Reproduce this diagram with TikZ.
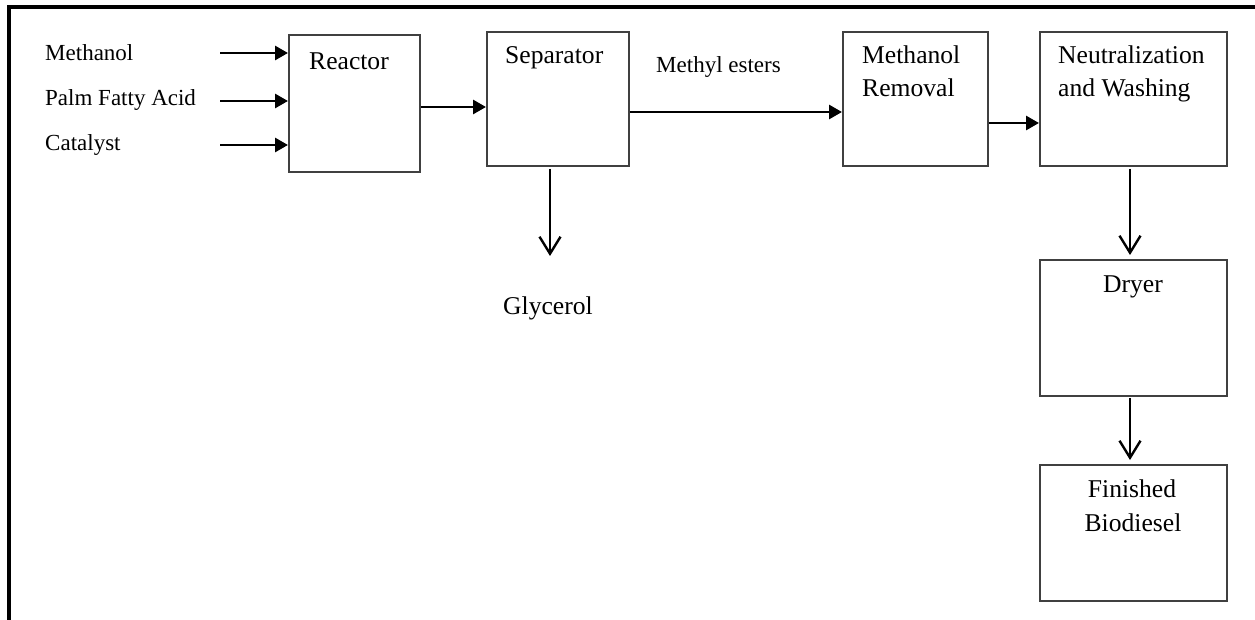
\documentclass[tikz,border=0pt]{standalone}
\usepackage{fontspec}
\setmainfont{Liberation Serif}
\usetikzlibrary{arrows.meta}
\begin{document}
\begin{tikzpicture}[x=1pt,y=-1pt,
  box/.style={draw=black!75,line width=1.8pt,rectangle,inner sep=0pt,anchor=north west},
  btxt/.style={font=\fontsize{25.6}{33}\selectfont,inner sep=0pt,anchor=base west},
  ltxt/.style={font=\fontsize{23}{28}\selectfont,inner sep=0pt,anchor=base west},
  farr/.style={line width=2.8pt,-{Triangle[length=13pt,width=14pt]}},
  varr/.style={line width=2.4pt,-{Straight Barb[length=17pt,width=21pt,line width=2.4pt]}},
  frame/.style={line width=3.5pt,black}]
\useasboundingbox (0,0) rectangle (1255,620);
% outer frame (top and left edges)
\draw[frame] (1255,7) -- (9,7) -- (9,620);
% boxes
\node[box,minimum width=131pt,minimum height=137pt] (reactor) at (288,34) {};
\node[box,minimum width=142pt,minimum height=134pt] (sep) at (486,31) {};
\node[box,minimum width=145pt,minimum height=134pt] (mr) at (842,31) {};
\node[box,minimum width=187pt,minimum height=134pt] (nw) at (1039,31) {};
\node[box,minimum width=187pt,minimum height=136pt] (dryer) at (1039,259) {};
\node[box,minimum width=187pt,minimum height=136pt] (fin) at (1039,464) {};
% box texts
\node[btxt] (reactorT) at (309,70) {Reactor};
\node[btxt] (sepT) at (505,64) {Separator};
\node[btxt] (mrT1) at (862,64) {Methanol};
\node[btxt] (mrT2) at (862,97) {Removal};
\node[btxt] (nwT1) at (1058,64) {Neutralization};
\node[btxt] (nwT2) at (1058,97) {and Washing};
\node[btxt,anchor=base] (dryerT) at (1133,293) {Dryer};
\node[btxt,anchor=base] (finT1) at (1132,497) {Finished};
\node[btxt,anchor=base] (finT2) at (1133,531) {Biodiesel};
% free labels
\node[ltxt] (meth) at (45,61) {Methanol};
\node[ltxt] (palm) at (45,106) {Palm Fatty Acid};
\node[ltxt] (cat) at (45,151) {Catalyst};
\node[ltxt] (me) at (656,73) {Methyl esters};
\node[btxt] (gly) at (503,314) {Glycerol};
% input arrows
\coordinate (i1) at (220,53);
\coordinate (i2) at (220,101);
\coordinate (i3) at (220,145);
\draw[farr] (i1) -- (reactor.west |- i1);
\draw[farr] (i2) -- (reactor.west |- i2);
\draw[farr] (i3) -- (reactor.west |- i3);
% process arrows
\coordinate (h1) at (0,107);
\coordinate (h2) at (0,112);
\coordinate (h3) at (0,123);
\draw[farr] (reactor.east |- h1) -- (sep.west |- h1);
\draw[farr] (sep.east |- h2) -- (mr.west |- h2);
\draw[farr] (mr.east |- h3) -- (nw.west |- h3);
% vertical arrows
\coordinate (gtip) at (550,256);
\coordinate (vx) at (1130,0);
\draw[varr] ([yshift=-2pt]sep.south -| gtip) -- (gtip);
\draw[varr] ([yshift=-2pt]nw.south -| vx) -- ([yshift=4pt]dryer.north -| vx);
\draw[varr] ([yshift=-1pt]dryer.south -| vx) -- ([yshift=4pt]fin.north -| vx);
\end{tikzpicture}
\end{document}
